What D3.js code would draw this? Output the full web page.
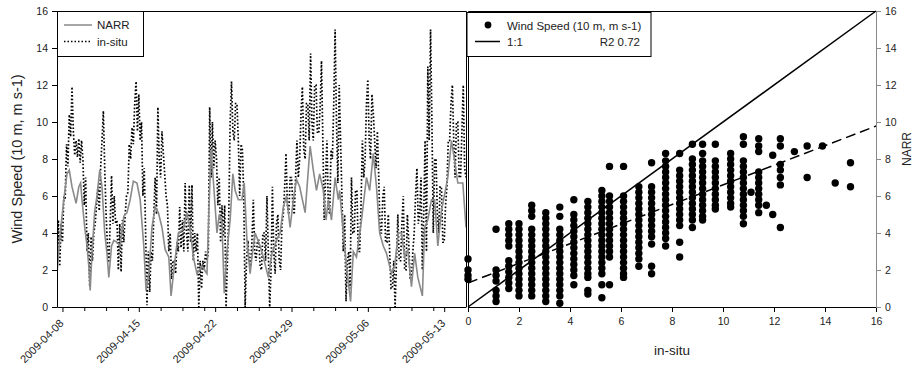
<!DOCTYPE html>
<html>
<head>
<meta charset="utf-8">
<script src="https://cdn.jsdelivr.net/npm/d3@7/dist/d3.min.js"></script>
<style>
  body { margin: 0; background: #fff; }
  svg { font-family: "Liberation Sans", Arial, sans-serif; }
</style>
</head>
<body>
<figure id="chart" style="margin:0"></figure>
<script>
// NARR series, hours since 2009-04-08 00:00 UTC
const narrHours = [-12, -4, 3, 10, 15, 21, 25, 30, 36, 40, 43, 49, 54, 58, 61, 65, 71, 76, 82, 87,
  93, 98, 102, 108, 113, 120, 127, 135, 142, 149, 156, 164, 171, 179, 184, 190, 197, 204, 211, 219,
  226, 234, 239, 246, 255, 266, 274, 281, 288, 296, 307, 318, 322, 327, 333, 340, 345, 351, 356, 362,
  369, 375, 380, 387, 395, 400, 406, 413, 417, 424, 435, 442, 453, 461, 471, 479, 486, 493, 501, 508,
  515, 522, 534, 545, 552, 559, 566, 574, 580, 585, 592, 600, 607, 610, 618, 625, 634, 640, 647, 658,
  669, 676, 684, 691, 698, 706, 713, 724, 731, 739, 746, 753, 760, 768, 775, 782, 792, 797, 804, 812,
  819, 826, 834, 841, 848, 856, 863, 870, 881, 888];
const narrWind = [1.8, 4.2, 5.8, 7.2, 7.4, 6.5, 6.1, 5.6, 6.5, 6.7, 5.8, 4.3, 3.3, 2.2, 0.9, 2.9, 5.2, 6.0, 7.4, 6.5,
  4.0, 2.9, 1.6, 3.3, 3.6, 3.5, 3.3, 4.9, 5.1, 5.8, 6.8, 6.7, 5.8, 3.3, 0.9, 1.8, 4.3, 5.4, 5.1, 4.3,
  3.1, 2.7, 0.6, 2.2, 4.0, 4.2, 5.1, 4.2, 2.7, 1.8, 2.2, 1.8, 5.0, 8.5, 6.5, 4.0, 5.0, 4.6, 0.75, 3.0,
  4.7, 7.2, 6.3, 5.8, 5.8, 6.7, 3.6, 1.8, 2.7, 4.0, 3.3, 2.7, 1.6, 2.9, 3.6, 4.0, 5.4, 6.0, 4.3, 5.8,
  6.9, 6.5, 5.1, 8.7, 7.4, 6.3, 7.2, 6.3, 4.7, 5.8, 4.7, 7.0, 5.8, 6.3, 4.0, 2.2, 0.3, 3.0, 2.7, 4.7,
  7.0, 6.3, 8.3, 6.5, 4.0, 3.3, 2.9, 1.8, 2.2, 4.0, 4.0, 2.7, 3.1, 1.1, 2.9, 1.6, 0.6, 4.3, 4.7, 5.8,
  5.8, 3.3, 5.2, 6.1, 7.0, 9.0, 7.9, 6.7, 6.7, 4.3];

// in-situ series, one value every 3 h starting 2009-04-07 12:00 UTC
const insituStepHours = 3;
const insituWind = [
  2.0, 4.7, 2.2, 4.5, 3.5, 6.0, 5.8, 8.8, 7.6, 10.4, 9.2, 11.9, 9.5, 8.2, 9.0, 8.1, 9.1, 7.8, 9.0, 8.0,
  5.5, 7.0, 3.0, 4.0, 1.1, 3.8, 2.5, 4.0, 4.5, 5.5, 6.5, 5.2, 7.5, 9.0, 10.6, 7.5, 5.0, 3.3, 2.4, 4.5,
  7.1, 4.5, 6.0, 4.5, 4.7, 2.0, 4.5, 1.9, 4.7, 3.5, 5.0, 6.0, 6.2, 8.8, 8.0, 9.7, 8.8, 11.0, 12.2, 9.5,
  11.5, 9.0, 10.0, 6.0, 7.5, 4.0, 0.1, 3.0, 0.8, 3.0, 2.5, 5.0, 7.0, 5.0, 10.8, 8.0, 7.0, 9.5, 8.3, 7.2,
  6.0, 5.5, 3.0, 4.0, 1.5, 2.5, 2.5, 1.8, 3.5, 3.0, 5.4, 3.2, 4.7, 3.0, 6.7, 4.0, 3.0, 6.6, 3.5, 6.6,
  2.5, 4.0, 3.0, 4.0, 0.0, 2.5, 1.0, 2.5, 2.0, 3.0, 2.5, 3.0, 10.8, 7.0, 10.0, 7.5, 9.0, 8.0, 5.5, 7.0,
  3.5, 5.5, 3.8, 5.5, 0.0, 2.5, 5.0, 10.0, 12.2, 9.5, 9.0, 11.0, 11.0, 9.0, 6.0, 8.8, 8.5, 6.0, 0.0, 2.5,
  3.6, 2.5, 2.2, 3.6, 5.8, 3.0, 2.5, 3.6, 3.6, 2.2, 2.0, 4.0, 4.0, 2.5, 6.0, 3.0, 0.0, 2.0, 6.5, 3.0,
  1.8, 4.5, 5.0, 2.5, 2.0, 4.5, 5.0, 6.5, 8.3, 5.5, 5.0, 7.0, 7.0, 5.5, 5.0, 7.0, 9.0, 7.0, 8.0, 10.5,
  11.9, 8.5, 8.0, 11.0, 11.0, 9.0, 13.7, 10.0, 9.0, 12.0, 12.0, 9.4, 9.4, 10.8, 13.3, 9.0, 4.7, 7.0, 9.0, 5.5,
  5.0, 8.5, 8.0, 11.0, 15.0, 10.0, 6.7, 12.0, 9.0, 6.0, 3.0, 5.0, 0.3, 2.5, 3.0, 1.0, 7.0, 4.0, 4.0, 6.3,
  6.3, 3.0, 3.0, 5.5, 9.0, 7.0, 8.0, 11.0, 12.3, 9.0, 8.0, 11.5, 10.5, 9.0, 7.5, 9.5, 7.0, 4.0, 4.0, 6.0,
  6.5, 3.5, 3.5, 5.0, 3.0, 1.0, 1.0, 2.5, 0.0, 2.5, 5.0, 2.5, 2.5, 4.5, 6.0, 2.0, 2.0, 5.0, 3.5, 1.5,
  1.5, 3.0, 4.0, 6.0, 7.5, 4.5, 5.0, 7.0, 2.0, 5.0, 9.0, 3.0, 13.0, 9.0, 15.0, 10.0, 4.0, 8.0, 8.0, 5.0,
  4.0, 6.5, 6.5, 3.5, 3.5, 5.5, 6.5, 9.0, 9.0, 11.0, 12.0, 9.0, 7.0, 10.0, 10.0, 7.0, 7.0, 9.5, 12.0, 7.5,
  7.0];

const dateTicks = ["2009-04-08", "2009-04-15", "2009-04-22", "2009-04-29", "2009-05-06", "2009-05-13"];
const windTicks = [0, 2, 4, 6, 8, 10, 12, 14, 16];

// scatter: in-situ bins and the NARR values read in each bin
const scatterInsitu = [0, 1.1, 1.6, 2.0, 2.5, 3.05, 3.6, 4.15, 4.7, 5.25, 5.55, 6.1, 6.7, 7.2, 7.75, 8.3,
  8.8, 9.2, 9.7, 10.3, 10.8, 11.1, 11.4, 11.7, 11.95, 12.25, 12.8, 13.3, 13.9, 14.4, 15.0];
const scatterNarr = [
  [2.6, 2.0, 1.7, 1.5],
  [4.2, 2.0, 1.7, 1.4, 0.9, 0.6, 0.3],
  [4.5, 4.2, 3.9, 3.6, 3.3, 2.5, 2.2, 1.9, 1.6, 1.3, 1.0],
  [4.5, 4.2, 3.9, 3.6, 3.3, 3.0, 2.7, 2.4, 2.1, 1.8, 1.5, 1.2, 0.9, 0.6],
  [5.5, 5.2, 4.9, 4.2, 3.9, 3.6, 3.3, 3.0, 2.7, 2.4, 2.1, 1.8, 1.5, 1.2, 0.9, 0.6],
  [5.1, 4.8, 4.5, 4.2, 3.9, 3.6, 3.3, 3.0, 2.7, 2.4, 2.1, 1.8, 1.5, 1.2, 0.9, 0.6, 0.3],
  [5.4, 4.9, 4.2, 3.9, 3.6, 3.3, 3.0, 2.7, 2.4, 2.1, 1.8, 1.5, 1.2, 0.9, 0.6, 0.2],
  [5.8, 5.0, 4.7, 4.4, 4.1, 3.8, 3.5, 3.2, 2.9, 2.6, 2.3, 2.0, 1.7, 1.2],
  [5.7, 5.4, 5.1, 4.8, 4.5, 4.2, 3.9, 3.6, 3.3, 3.0, 2.7, 2.4, 2.1, 1.8, 1.6, 0.9, 0.7],
  [6.3, 6.0, 5.7, 5.4, 5.1, 4.8, 4.5, 4.2, 3.9, 3.6, 3.3, 3.0, 2.7, 2.4, 2.1, 1.8, 1.2, 0.5],
  [7.6, 6.0, 5.7, 5.4, 5.1, 4.8, 4.5, 4.2, 3.9, 3.6, 3.3, 3.0, 2.7, 1.2],
  [7.6, 6.0, 5.7, 5.4, 5.1, 4.8, 4.5, 4.2, 3.9, 3.6, 3.3, 3.0, 2.7, 2.4, 2.1, 1.8, 1.6],
  [6.5, 6.2, 5.9, 5.6, 5.3, 5.0, 4.7, 4.4, 4.1, 3.8, 3.5, 3.2, 2.9, 2.6, 2.2],
  [7.8, 6.5, 6.2, 5.9, 5.6, 5.3, 5.0, 4.7, 4.4, 4.1, 3.8, 3.4, 2.2, 1.8],
  [8.3, 7.9, 7.6, 7.3, 7.0, 6.7, 6.4, 6.1, 5.8, 5.5, 5.2, 4.9, 4.6, 4.3, 4.0, 3.7, 3.3],
  [8.3, 7.4, 7.1, 6.8, 6.5, 6.2, 5.9, 5.6, 5.3, 5.0, 4.7, 4.4, 3.5, 2.7],
  [8.8, 8.0, 7.7, 7.4, 7.1, 6.8, 6.5, 6.2, 5.9, 5.6, 5.3, 5.0, 4.7, 4.3],
  [8.8, 8.3, 7.9, 7.6, 7.3, 7.0, 6.7, 6.4, 6.1, 5.8, 5.5, 5.2, 4.9, 4.7],
  [8.8, 7.9, 7.6, 7.3, 7.0, 6.7, 6.4, 6.1, 5.8, 5.5, 5.3],
  [8.3, 8.0, 7.7, 7.4, 7.1, 6.8, 6.5, 6.2, 5.9, 5.6, 5.4],
  [9.2, 8.8, 7.9, 7.6, 7.3, 7.0, 6.7, 6.4, 6.1, 5.8, 5.5, 5.2, 4.9, 4.5],
  [6.2],
  [9.1, 8.7, 8.4, 7.3, 7.0, 6.7, 6.4, 6.1, 5.8, 5.5, 5.1],
  [5.5],
  [8.2, 5.0],
  [9.1, 8.7, 7.7, 7.4, 7.0, 6.6, 4.3],
  [8.4],
  [8.7, 7.0],
  [8.7],
  [6.7],
  [7.8, 6.5]
];
const fitIntercept = 1.3;
const fitSlope = 0.53;
const r2Text = "R2 0.72";

const W = 914, H = 367;
const yTop = 11, yBottom = 307;
const left1 = 57, right1 = 466;
const left2 = 468, right2 = 876;

const svg = d3.select("figure#chart")
  .append("svg")
  .attr("width", W)
  .attr("height", H);

const parse = d3.utcParse("%Y-%m-%d");
const t0 = Date.UTC(2009, 3, 8);
const hourDate = h => new Date(t0 + h * 3600000);

const x = d3.scaleUtc()
  .domain([new Date(Date.UTC(2009, 3, 7, 12)), new Date(Date.UTC(2009, 4, 15))])
  .range([left1, right1]);
const y = d3.scaleLinear().domain([0, 16]).range([yBottom, yTop]);
const xs = d3.scaleLinear().domain([0, 16]).range([left2, right2]);

function drawTimeSeries() {
  svg.append("clipPath").attr("id", "clip1")
    .append("rect").attr("x", left1).attr("y", yTop - 2).attr("width", right1 - left1).attr("height", yBottom - yTop + 2);

  const g = svg.append("g").attr("clip-path", "url(#clip1)");

  const narr = narrHours.map((h, i) => ({ t: hourDate(h), v: narrWind[i] }));
  const insitu = insituWind.map((v, i) => ({ t: hourDate(-12 + i * insituStepHours), v: v }));

  const line = d3.line().x(d => x(d.t)).y(d => y(d.v));

  g.append("path")
    .datum(insitu)
    .attr("d", line)
    .attr("fill", "none")
    .attr("stroke", "#000")
    .attr("stroke-width", 1.7)
    .attr("stroke-dasharray", "1.6,2");

  g.append("path")
    .datum(narr)
    .attr("d", line)
    .attr("fill", "none")
    .attr("stroke", "#8a8a8a")
    .attr("stroke-width", 1.6);

  // y axis
  svg.append("g")
    .attr("transform", "translate(" + left1 + ",0)")
    .call(d3.axisLeft(y).tickValues(windTicks).tickSize(5).tickSizeOuter(0).tickPadding(4))
    .call(a => a.selectAll("text").attr("font-size", 10.5).attr("fill", "#222"));

  // x axis, weekly labels plus minor ticks every 2 days
  const major = dateTicks.map(parse);
  const minor = [];
  major.forEach(d => [2, 4, 6].forEach(k => minor.push(d3.utcDay.offset(d, k))));
  svg.append("g")
    .attr("transform", "translate(0," + yBottom + ")")
    .call(d3.axisBottom(x).tickValues(major).tickFormat("").tickSize(5).tickSizeOuter(0));
  svg.append("g")
    .attr("transform", "translate(0," + yBottom + ")")
    .call(d3.axisBottom(x).tickValues(minor.filter(d => x(d) < right1)).tickFormat("").tickSize(4))
    .call(a => a.select(".domain").remove());

  svg.append("g").selectAll("text")
    .data(dateTicks)
    .enter()
    .append("text")
    .attr("transform", d => "translate(" + (x(parse(d)) + 2) + "," + (yBottom + 17) + ") rotate(-45)")
    .attr("text-anchor", "end")
    .attr("font-size", 11)
    .attr("fill", "#222")
    .text(d => d);

  // frame
  svg.append("path")
    .attr("d", "M" + left1 + "," + (yTop + 0.5) + "H" + (right1 + 0.5) + "V" + yBottom)
    .attr("fill", "none").attr("stroke", "#000");

  svg.append("text")
    .attr("transform", "translate(22," + ((yTop + yBottom) / 2) + ") rotate(-90)")
    .attr("text-anchor", "middle")
    .attr("font-size", 14.5)
    .attr("fill", "#222")
    .text("Wind Speed (10 m, m s-1)");

  // legend
  const lg = svg.append("g");
  lg.append("rect").attr("x", left1 + 0.5).attr("y", yTop + 0.5).attr("width", 86).attr("height", 45)
    .attr("fill", "#fff").attr("stroke", "#000");
  lg.append("line").attr("x1", 64).attr("x2", 92).attr("y1", 25).attr("y2", 25)
    .attr("stroke", "#8a8a8a").attr("stroke-width", 1.5);
  lg.append("line").attr("x1", 64).attr("x2", 92).attr("y1", 41.5).attr("y2", 41.5)
    .attr("stroke", "#000").attr("stroke-width", 1.5).attr("stroke-dasharray", "1.5,2");
  lg.append("text").attr("x", 97).attr("y", 29).attr("font-size", 11.5).attr("fill", "#222").text("NARR");
  lg.append("text").attr("x", 97).attr("y", 45.5).attr("font-size", 11.5).attr("fill", "#222").text("in-situ");
}

function drawScatter() {
  const pts = [];
  scatterInsitu.forEach((s, i) => scatterNarr[i].forEach(v => pts.push({ s: s, v: v })));

  svg.append("g").selectAll("circle")
    .data(pts)
    .enter()
    .append("circle")
    .attr("cx", d => xs(d.s))
    .attr("cy", d => y(d.v))
    .attr("r", 3.7)
    .attr("fill", "#000");

  const line = d3.line().x(d => xs(d[0])).y(d => y(d[1]));
  svg.append("path")
    .datum([[0, 0], [16, 16]])
    .attr("d", line)
    .attr("stroke", "#000").attr("stroke-width", 1.5).attr("fill", "none");
  svg.append("path")
    .datum([0, 16].map(s => [s, fitIntercept + fitSlope * s]))
    .attr("d", line)
    .attr("stroke", "#000").attr("stroke-width", 1.5).attr("fill", "none")
    .attr("stroke-dasharray", "10,5");

  svg.append("g")
    .attr("transform", "translate(0," + yBottom + ")")
    .call(d3.axisBottom(xs).tickValues(windTicks).tickSize(5).tickSizeOuter(0).tickPadding(6))
    .call(a => a.selectAll("text").attr("font-size", 10.5).attr("fill", "#222"));

  svg.append("g")
    .attr("transform", "translate(" + right2 + ",0)")
    .call(d3.axisRight(y).tickValues(windTicks).tickSize(5).tickSizeOuter(0).tickPadding(4))
    .call(a => a.selectAll("line,path").attr("stroke", "#888"))
    .call(a => a.selectAll("text").attr("font-size", 10.5).attr("fill", "#222"));

  svg.append("path")
    .attr("d", "M" + (left2 + 0.5) + "," + yBottom + "V" + (yTop + 0.5) + "H" + right2)
    .attr("fill", "none").attr("stroke", "#000");

  svg.append("text")
    .attr("x", (left2 + right2) / 2).attr("y", 355)
    .attr("text-anchor", "middle").attr("font-size", 13.5).attr("fill", "#222")
    .text("in-situ");
  svg.append("text")
    .attr("transform", "translate(911,149) rotate(-90)")
    .attr("text-anchor", "middle").attr("font-size", 12).attr("fill", "#222")
    .text("NARR");

  // legend
  const lg = svg.append("g");
  lg.append("rect").attr("x", 467).attr("y", 12.5).attr("width", 184).attr("height", 44)
    .attr("fill", "#fff").attr("stroke", "#000");
  lg.append("circle").attr("cx", 488).attr("cy", 25).attr("r", 3.4).attr("fill", "#000");
  lg.append("line").attr("x1", 475).attr("x2", 500).attr("y1", 41.5).attr("y2", 41.5)
    .attr("stroke", "#000").attr("stroke-width", 1.5);
  lg.append("text").attr("x", 507).attr("y", 30).attr("font-size", 11.5).attr("fill", "#222")
    .text("Wind Speed (10 m, m s-1)");
  lg.append("text").attr("x", 507).attr("y", 46).attr("font-size", 11.5).attr("fill", "#222").text("1:1");
  lg.append("text").attr("x", 640).attr("y", 46).attr("text-anchor", "end").attr("font-size", 11.5)
    .attr("fill", "#222").text(r2Text);
}

drawTimeSeries();
drawScatter();
</script>
</body>
</html>
